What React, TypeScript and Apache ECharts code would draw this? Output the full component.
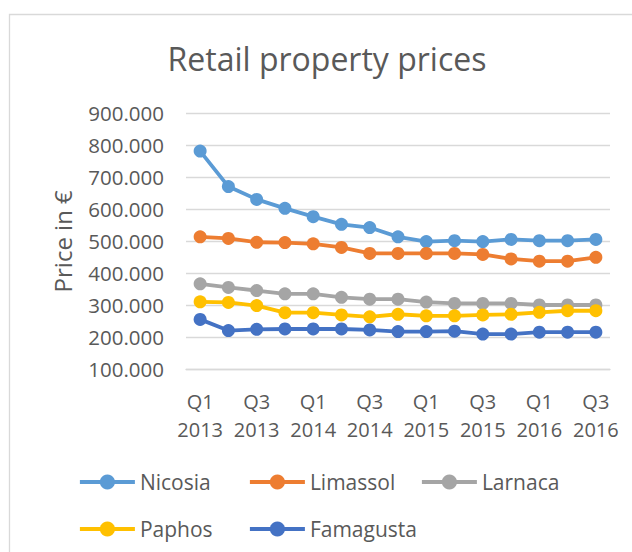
import React, { useEffect, useRef } from "react";
import * as echarts from "echarts";

const categories = [
  "Q1\n2013", "Q2\n2013", "Q3\n2013", "Q4\n2013",
  "Q1\n2014", "Q2\n2014", "Q3\n2014", "Q4\n2014",
  "Q1\n2015", "Q2\n2015", "Q3\n2015", "Q4\n2015",
  "Q1\n2016", "Q2\n2016", "Q3\n2016",
];
const nicosia = [782000, 671000, 631000, 603000, 577000, 553000, 543000, 514000, 499000, 502000, 499000, 506000, 502000, 502000, 506000];
const limassol = [514000, 509000, 497000, 496000, 492000, 481000, 462000, 462000, 462000, 462000, 459000, 445000, 438000, 438000, 450000];
const larnaca = [367000, 356000, 346000, 336000, 336000, 325000, 319000, 319000, 310000, 306000, 306000, 306000, 301000, 301000, 301000];
const paphos = [311000, 309000, 299000, 277000, 277000, 270000, 264000, 272000, 267000, 267000, 270000, 272000, 278000, 283000, 283000];
const famagusta = [256000, 221000, 225000, 226000, 226000, 226000, 223000, 218000, 218000, 219000, 210000, 210000, 216000, 216000, 216000];

const seriesNames = ["Nicosia", "Limassol", "Larnaca", "Paphos", "Famagusta"];
const seriesData = [nicosia, limassol, larnaca, paphos, famagusta];
const colors = ["#5B9BD5", "#ED7D31", "#A5A5A5", "#FFC000", "#4472C4"];

const FONT = "Open Sans";
const TXT = "#595959";

export default function App() {
  const ref = useRef<HTMLDivElement>(null);
  useEffect(() => {
    if (!ref.current) return;
    const chart = echarts.init(ref.current, null, { renderer: "svg" });
    const legendCommon = {
      orient: "vertical",
      top: 471.5,
      padding: 0,
      itemWidth: 55,
      itemHeight: 19,
      itemGap: 26,
      lineStyle: { width: 3.8 },
      textStyle: { color: TXT, fontFamily: FONT, fontSize: 21, lineHeight: 19 },
    };
    chart.setOption({
      animation: false,
      color: colors,
      graphic: [
        {
          type: "rect",
          shape: { x: 9.5, y: 14.5, width: 640, height: 560 },
          style: { fill: "none", stroke: "#D9D9D9", lineWidth: 1.3 },
          silent: true,
        },
      ],
      title: {
        text: "Retail property prices",
        left: 322,
        textAlign: "center",
        top: 37,
        textStyle: { color: TXT, fontFamily: FONT, fontSize: 32, fontWeight: "normal" },
      },
      legend: [
        { ...legendCommon, left: 78, data: ["Nicosia", "Paphos"] },
        { ...legendCommon, left: 248, data: ["Limassol", "Famagusta"] },
        { ...legendCommon, left: 420, data: ["Larnaca"] },
      ],
      grid: { left: 186, right: 22, top: 113.3, bottom: 182.7, containLabel: false },
      xAxis: {
        type: "category",
        data: categories,
        boundaryGap: true,
        axisLine: { show: true, lineStyle: { color: "#D9D9D9", width: 1.3 } },
        axisTick: { show: false },
        axisLabel: {
          interval: 1,
          color: TXT,
          fontFamily: FONT,
          fontSize: 20,
          lineHeight: 28,
          margin: 18,
        },
      },
      yAxis: {
        type: "value",
        min: 100000,
        max: 900000,
        interval: 100000,
        name: "Price in €",
        nameLocation: "middle",
        nameGap: 112,
        nameTextStyle: { color: TXT, fontFamily: FONT, fontSize: 24 },
        axisLine: { show: false },
        axisTick: { show: false },
        splitLine: { lineStyle: { color: "#D9D9D9", width: 1.3 } },
        axisLabel: {
          color: TXT,
          fontFamily: FONT,
          fontSize: 20.5,
          margin: 22,
          formatter: (v: number) => `${Math.round(v / 1000)}.000`,
        },
      },
      series: seriesNames.map((name, i) => ({
        name,
        type: "line",
        data: seriesData[i],
        symbol: "circle",
        symbolSize: 13,
        lineStyle: { width: 3.8, color: colors[i] },
        itemStyle: { color: colors[i] },
      })),
    });
    return () => chart.dispose();
  }, []);
  return (
    <div
      ref={ref}
      style={{ position: "fixed", left: 0, top: 0, width: 632, height: 552, background: "#fff" }}
    />
  );
}
